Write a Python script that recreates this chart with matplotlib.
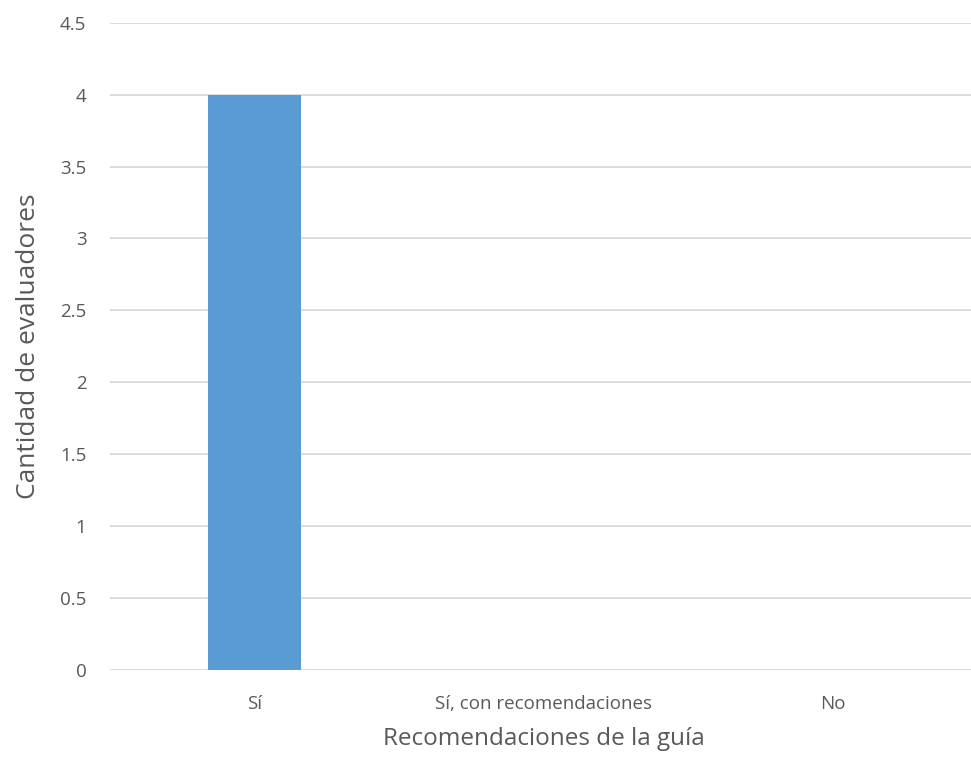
import matplotlib.pyplot as plt

# Respuestas sobre la guía
categorias = ['Sí', 'Sí, con recomendaciones', 'No']
evaluadores = [4, 0, 0]
yticks = [0, 0.5, 1, 1.5, 2, 2.5, 3, 3.5, 4, 4.5]

plt.rcParams['font.family'] = ['Open Sans', 'DejaVu Sans']
gris = '#595959'

fig = plt.figure(figsize=(9.71, 7.74), dpi=100)
# el área de trazado llega un poco más allá del borde derecho
ax = fig.add_axes([110 / 971, 1 - 670 / 774, (977 - 110) / 971, (670 - 22.7) / 774])

x = range(len(categorias))
ax.bar(x, evaluadores, width=0.322, color='#5b9bd5', zorder=3)

ax.set_xlim(-0.5, 2.5)
ax.set_ylim(0, 4.5)
ax.set_yticks(yticks)
ax.set_yticklabels([f'{v:g}' for v in yticks])
ax.set_xticks(list(x))
ax.set_xticklabels(categorias)

ax.grid(axis='y', color='#d9d9d9', linewidth=1.3, zorder=0)
for s in ax.spines.values():
    s.set_visible(False)
ax.tick_params(axis='both', length=0, colors=gris, labelsize=13.5)
ax.tick_params(axis='x', pad=18)
ax.tick_params(axis='y', pad=17)

ax.set_xlabel('Recomendaciones de la guía', fontsize=17.5, color=gris, labelpad=10)
ax.set_ylabel('Cantidad de evaluadores', fontsize=19, color=gris, labelpad=14)

fig.savefig('out.png', dpi=100)
